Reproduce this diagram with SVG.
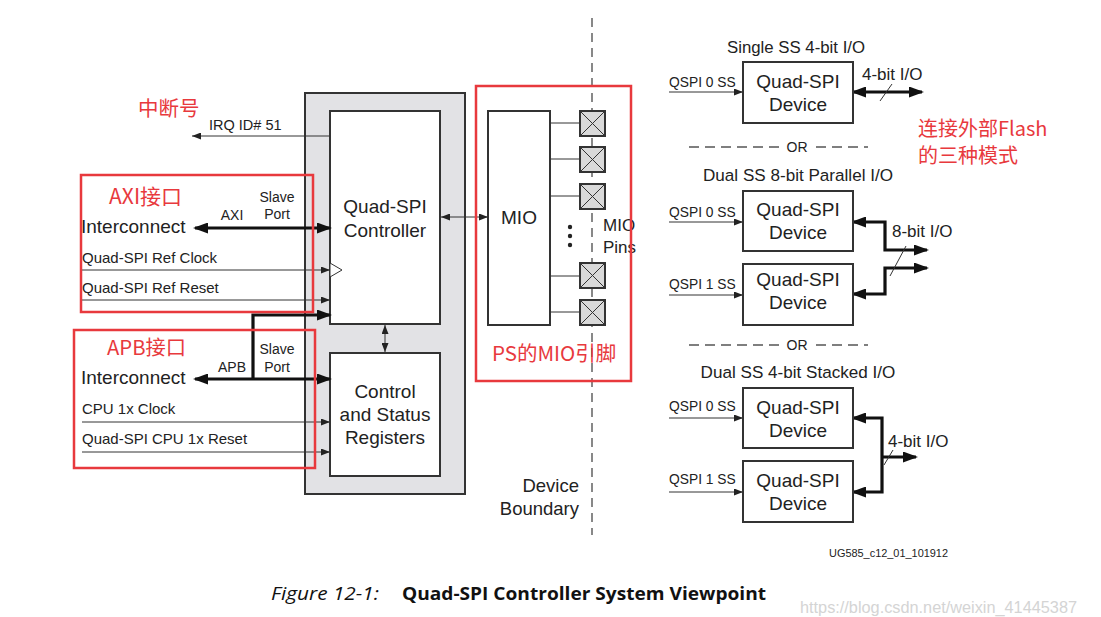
<svg xmlns="http://www.w3.org/2000/svg" width="1101" height="617" viewBox="0 0 1101 617">
<style>
.t{font-family:"Liberation Sans",Arial,sans-serif;fill:#222}
.red{font-family:"Noto Sans CJK SC","Liberation Sans",sans-serif;fill:#e8393d}
.box{fill:#fff;stroke:#333;stroke-width:2}
.rbox{fill:none;stroke:#e8393d;stroke-width:2.5}
.thin{fill:none;stroke:#333;stroke-width:1}
.thick{fill:none;stroke:#111;stroke-width:3.2}
.pin{fill:#d9d9d9;stroke:#333;stroke-width:2}
.dash{fill:none;stroke:#555;stroke-width:1.3;stroke-dasharray:10 6}
</style>
<defs>
<marker id="a" markerUnits="userSpaceOnUse" markerWidth="9" markerHeight="7" refX="9" refY="3.5" orient="auto-start-reverse"><path d="M0,0 L9,3.5 L0,7 z" fill="#222"/></marker>
<marker id="A" markerUnits="userSpaceOnUse" markerWidth="15" markerHeight="11" refX="13" refY="5.5" orient="auto-start-reverse"><path d="M0,0 L15,5.5 L0,11 z" fill="#111"/></marker>
</defs>
<rect width="1101" height="617" fill="#fff"/>

<!-- device boundary -->
<line x1="592" y1="18" x2="592" y2="535" stroke="#888" stroke-width="2" stroke-dasharray="9 6"/>

<g id="ps-block">
<rect x="305" y="93" width="160" height="401" fill="#e2e2e5" stroke="#333" stroke-width="2"/>
</g>
<g id="controller">
<rect class="box" x="330" y="111" width="110" height="213"/>
<polygon points="330,263 342,270 330,277" fill="#fff" stroke="#333" stroke-width="1"/>
<text class="t" x="385" y="213" font-size="19" text-anchor="middle">Quad-SPI</text>
<text class="t" x="385" y="237" font-size="19" text-anchor="middle">Controller</text>
</g>
<g id="csr">
<rect class="box" x="330" y="353" width="110" height="123"/>
<text class="t" x="385" y="398" font-size="19" text-anchor="middle">Control</text>
<text class="t" x="385" y="421" font-size="19" text-anchor="middle">and Status</text>
<text class="t" x="385" y="444" font-size="19" text-anchor="middle">Registers</text>
</g>
<g id="mio">
<rect class="box" x="488" y="111" width="62" height="214"/>
<text class="t" x="519" y="224" font-size="19" text-anchor="middle">MIO</text>
</g>
<g id="mio-pins">
<g class="thin">
<line x1="550" y1="123" x2="580" y2="123"/>
<line x1="550" y1="159" x2="580" y2="159"/>
<line x1="550" y1="196" x2="580" y2="196"/>
<line x1="550" y1="276" x2="580" y2="276"/>
<line x1="550" y1="312" x2="580" y2="312"/>
</g>
<rect class="pin" x="580" y="111" width="25" height="25"/><path class="thin" d="M580,111 L605,136 M605,111 L580,136"/>
<rect class="pin" x="580" y="147" width="25" height="25"/><path class="thin" d="M580,147 L605,172 M605,147 L580,172"/>
<rect class="pin" x="580" y="184" width="25" height="25"/><path class="thin" d="M580,184 L605,209 M605,184 L580,209"/>
<rect class="pin" x="580" y="263" width="25" height="25"/><path class="thin" d="M580,263 L605,288 M605,263 L580,288"/>
<rect class="pin" x="580" y="300" width="25" height="25"/><path class="thin" d="M580,300 L605,325 M605,300 L580,325"/>
<circle cx="570" cy="227" r="2.2" fill="#222"/>
<circle cx="570" cy="236" r="2.2" fill="#222"/>
<circle cx="570" cy="245" r="2.2" fill="#222"/>
<text class="t" x="603" y="231" font-size="17">MIO</text>
<text class="t" x="603" y="253" font-size="17">Pins</text>
</g>

<g id="connectors">
<line class="thin" x1="330" y1="136" x2="192" y2="136" marker-end="url(#a)"/>
<line class="thick" x1="195" y1="228" x2="330" y2="228" marker-start="url(#A)" marker-end="url(#A)"/>
<line class="thin" x1="82" y1="270" x2="330" y2="270" marker-end="url(#a)"/>
<line class="thin" x1="82" y1="300" x2="330" y2="300" marker-end="url(#a)"/>
<path class="thick" d="M253,379 L253,315 L330,315" marker-end="url(#A)"/>
<line class="thick" x1="195" y1="379" x2="330" y2="379" marker-start="url(#A)" marker-end="url(#A)"/>
<line class="thin" x1="82" y1="422" x2="330" y2="422" marker-end="url(#a)"/>
<line class="thin" x1="82" y1="452" x2="330" y2="452" marker-end="url(#a)"/>
<line class="thin" x1="385" y1="325" x2="385" y2="352" marker-start="url(#a)" marker-end="url(#a)"/>
<line class="thin" x1="441" y1="217" x2="488" y2="217" marker-start="url(#a)" marker-end="url(#a)"/>

<line class="thin" x1="669" y1="92" x2="743" y2="92" marker-end="url(#a)"/>
<line class="thick" x1="853" y1="92" x2="922" y2="92" marker-start="url(#A)" marker-end="url(#A)"/>
<line class="thin" x1="880" y1="101" x2="892" y2="84"/>

<line class="thin" x1="669" y1="222" x2="743" y2="222" marker-end="url(#a)"/>
<line class="thin" x1="669" y1="295" x2="743" y2="295" marker-end="url(#a)"/>
<path class="thick" d="M853,222 L885,222 L885,250 L927,250" marker-start="url(#A)" marker-end="url(#A)"/>
<path class="thick" d="M853,294 L885,294 L885,268 L927,268" marker-start="url(#A)" marker-end="url(#A)"/>
<line class="thin" x1="890" y1="276" x2="906" y2="246"/>

<line class="thin" x1="669" y1="418" x2="743" y2="418" marker-end="url(#a)"/>
<line class="thin" x1="669" y1="492" x2="743" y2="492" marker-end="url(#a)"/>
<path class="thick" d="M853,418 L882,418 L882,492 L853,492" marker-start="url(#A)" marker-end="url(#A)"/>
<line class="thick" x1="882" y1="457" x2="916" y2="457" marker-end="url(#A)"/>
<line class="thin" x1="884" y1="465" x2="893" y2="450"/>
</g>

<g id="labels-left">
<text class="t" x="209" y="130" font-size="14.5">IRQ ID# 51</text>
<text class="t" x="277" y="202" font-size="14" text-anchor="middle">Slave</text>
<text class="t" x="277" y="219" font-size="14" text-anchor="middle">Port</text>
<text class="t" x="232" y="220" font-size="14" text-anchor="middle">AXI</text>
<text class="t" x="81" y="233" font-size="19">Interconnect</text>
<text class="t" x="82" y="263" font-size="15">Quad-SPI Ref Clock</text>
<text class="t" x="82" y="293" font-size="15">Quad-SPI Ref Reset</text>
<text class="t" x="277" y="354" font-size="14" text-anchor="middle">Slave</text>
<text class="t" x="277" y="372" font-size="14" text-anchor="middle">Port</text>
<text class="t" x="232" y="372" font-size="14" text-anchor="middle">APB</text>
<text class="t" x="81" y="384" font-size="19">Interconnect</text>
<text class="t" x="82" y="414" font-size="15">CPU 1x Clock</text>
<text class="t" x="82" y="444" font-size="15">Quad-SPI CPU 1x Reset</text>
<text class="t" x="579" y="492" font-size="18.5" text-anchor="end">Device</text>
<text class="t" x="579" y="515" font-size="18.5" text-anchor="end">Boundary</text>
</g>

<g id="annotations">
<text class="red" x="138" y="116" font-size="20.5">中断号</text>
<rect class="rbox" x="81" y="175" width="232" height="137"/>
<text class="red" x="109" y="204" font-size="21">AXI接口</text>
<rect class="rbox" x="74" y="330" width="241" height="138"/>
<text class="red" x="107" y="355" font-size="20.3">APB接口</text>
<rect class="rbox" x="476" y="86" width="155" height="295"/>
<text class="red" x="492" y="361" font-size="20.5">PS的MIO引脚</text>
<text class="red" x="918" y="136" font-size="20">连接外部Flash</text>
<text class="red" x="918" y="163" font-size="20">的三种模式</text>
</g>

<g id="single-ss">
<text class="t" x="796" y="53" font-size="16.8" text-anchor="middle">Single SS 4-bit I/O</text>
<rect class="box" x="743" y="62" width="110" height="61"/>
<text class="t" x="798" y="88" font-size="19" text-anchor="middle">Quad-SPI</text>
<text class="t" x="798" y="111" font-size="19" text-anchor="middle">Device</text>
<text class="t" x="669" y="87" font-size="13.8">QSPI 0 SS</text>
<text class="t" x="862" y="80" font-size="17">4-bit I/O</text>
</g>
<g id="or1">
<line class="dash" x1="689" y1="147" x2="780" y2="147"/>
<text class="t" x="797" y="152" font-size="14" text-anchor="middle">OR</text>
<line class="dash" x1="816" y1="147" x2="868" y2="147"/>
</g>
<g id="dual-parallel">
<text class="t" x="798" y="181" font-size="17.1" text-anchor="middle">Dual SS 8-bit Parallel I/O</text>
<rect class="box" x="743" y="191" width="110" height="60"/>
<text class="t" x="798" y="216" font-size="19" text-anchor="middle">Quad-SPI</text>
<text class="t" x="798" y="239" font-size="19" text-anchor="middle">Device</text>
<rect class="box" x="743" y="264" width="110" height="61"/>
<text class="t" x="798" y="286" font-size="19" text-anchor="middle">Quad-SPI</text>
<text class="t" x="798" y="309" font-size="19" text-anchor="middle">Device</text>
<text class="t" x="669" y="217" font-size="13.8">QSPI 0 SS</text>
<text class="t" x="669" y="289" font-size="13.8">QSPI 1 SS</text>
<text class="t" x="892" y="237" font-size="17">8-bit I/O</text>
</g>
<g id="or2">
<line class="dash" x1="689" y1="345" x2="780" y2="345"/>
<text class="t" x="797" y="350" font-size="14" text-anchor="middle">OR</text>
<line class="dash" x1="816" y1="345" x2="868" y2="345"/>
</g>
<g id="dual-stacked">
<text class="t" x="798" y="378" font-size="17.1" text-anchor="middle">Dual SS 4-bit Stacked I/O</text>
<rect class="box" x="743" y="388" width="110" height="60"/>
<text class="t" x="798" y="414" font-size="19" text-anchor="middle">Quad-SPI</text>
<text class="t" x="798" y="437" font-size="19" text-anchor="middle">Device</text>
<rect class="box" x="743" y="461" width="110" height="61"/>
<text class="t" x="798" y="487" font-size="19" text-anchor="middle">Quad-SPI</text>
<text class="t" x="798" y="510" font-size="19" text-anchor="middle">Device</text>
<text class="t" x="669" y="411" font-size="13.8">QSPI 0 SS</text>
<text class="t" x="669" y="484" font-size="13.8">QSPI 1 SS</text>
<text class="t" x="888" y="447" font-size="17">4-bit I/O</text>
</g>

<g id="caption">
<text class="t" x="829" y="557" font-size="11" textLength="119" lengthAdjust="spacingAndGlyphs">UG585_c12_01_101912</text>
<text x="271" y="600" font-family="'Open Sans','Liberation Sans',sans-serif" font-style="italic" font-size="18" fill="#111" textLength="108" lengthAdjust="spacingAndGlyphs">Figure 12-1:</text>
<text x="402" y="600" font-family="'Open Sans','Liberation Sans',sans-serif" font-weight="bold" font-size="18" fill="#111" textLength="364" lengthAdjust="spacingAndGlyphs">Quad-SPI Controller System Viewpoint</text>
<text x="800" y="613" font-family="'Liberation Sans',sans-serif" font-size="16" fill="#d4d4d4" textLength="277" lengthAdjust="spacingAndGlyphs">https://blog.csdn.net/weixin_41445387</text>
</g>
</svg>
